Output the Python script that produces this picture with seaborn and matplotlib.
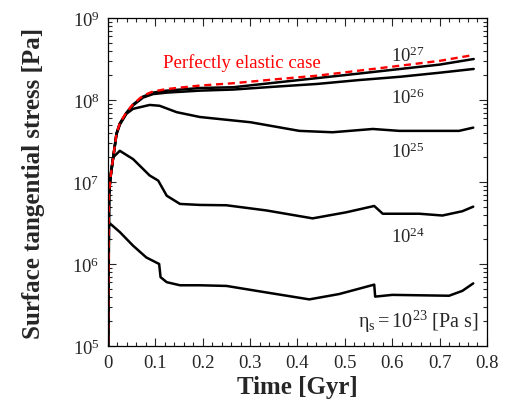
import matplotlib
matplotlib.use("Agg")
import matplotlib.pyplot as plt
from matplotlib.ticker import LogLocator, MultipleLocator, FixedLocator
import seaborn as sns

# Data (time in Gyr, stress in Pa)
t_elastic = [0, 0.002, 0.005, 0.011, 0.018, 0.025, 0.039, 0.053, 0.074, 0.095, 0.124,
             0.194, 0.264, 0.35, 0.442, 0.53, 0.617, 0.70, 0.772]
s_elastic = [8e4, 7e6, 1.1e7, 2.0e7, 3.9e7, 5.2e7, 7.1e7, 8.9e7, 1.13e8, 1.27e8, 1.36e8,
             1.5e8, 1.6e8, 1.78e8, 1.98e8, 2.28e8, 2.62e8, 3.0e8, 3.54e8]

t_27 = [0, 0.002, 0.005, 0.011, 0.018, 0.025, 0.039, 0.053, 0.074, 0.095, 0.124,
        0.194, 0.264, 0.35, 0.442, 0.53, 0.617, 0.70, 0.772]
s_27 = [8e4, 7e6, 1.1e7, 2.0e7, 3.9e7, 5.2e7, 7.0e7, 8.8e7, 1.1e8, 1.23e8, 1.3e8,
        1.4e8, 1.43e8, 1.62e8, 1.85e8, 2.1e8, 2.39e8, 2.7e8, 3.16e8]

t_26 = [0, 0.002, 0.005, 0.011, 0.018, 0.025, 0.039, 0.053, 0.074, 0.095, 0.124,
        0.194, 0.264, 0.35, 0.442, 0.53, 0.617, 0.70, 0.772]
s_26 = [8e4, 7e6, 1.1e7, 2.0e7, 3.9e7, 5.1e7, 6.9e7, 8.6e7, 1.07e8, 1.18e8, 1.23e8,
        1.3e8, 1.34e8, 1.45e8, 1.57e8, 1.75e8, 1.92e8, 2.15e8, 2.39e8]

t_25 = [0, 0.002, 0.005, 0.011, 0.018, 0.025, 0.039, 0.053, 0.088, 0.109, 0.145,
        0.194, 0.301, 0.404, 0.474, 0.559, 0.615, 0.741, 0.771]
s_25 = [8e4, 7e6, 1.1e7, 2.0e7, 3.8e7, 5.0e7, 6.8e7, 7.8e7, 8.7e7, 8.5e7, 7.1e7,
        6.2e7, 5.35e7, 4.2e7, 4.04e7, 4.43e7, 4.2e7, 4.2e7, 4.6e7]

t_24 = [0, 0.003, 0.006, 0.011, 0.025, 0.053, 0.088, 0.106, 0.124, 0.152, 0.194,
        0.25, 0.334, 0.432, 0.503, 0.562, 0.58, 0.657, 0.706, 0.748, 0.771]
s_24 = [8e4, 8e6, 1.3e7, 2.0e7, 2.4e7, 1.9e7, 1.2e7, 1.04e7, 6.8e6, 5.4e6, 5.25e6,
        5.2e6, 4.5e6, 3.6e6, 4.27e6, 5.1e6, 4.1e6, 4.1e6, 3.9e6, 4.4e6, 5.0e6]

t_23 = [0, 0.002, 0.025, 0.053, 0.081, 0.108, 0.111, 0.124, 0.152, 0.194, 0.25,
        0.334, 0.425, 0.488, 0.562, 0.564, 0.60, 0.66, 0.72, 0.748, 0.771]
s_23 = [8e4, 3.2e6, 2.45e6, 1.67e6, 1.2e6, 1.0e6, 6.9e5, 6.0e5, 5.5e5, 5.5e5, 5.4e5,
        4.5e5, 3.7e5, 4.3e5, 5.6e5, 4.0e5, 4.2e5, 4.15e5, 4.1e5, 4.7e5, 5.8e5]

x_ticks = [0, 0.1, 0.2, 0.3, 0.4, 0.5, 0.6, 0.7, 0.8]
x_labels = ["0", "0.1", "0.2", "0.3", "0.4", "0.5", "0.6", "0.7", "0.8"]

sns.set_style("ticks")
plt.rcParams['font.family'] = ['Liberation Serif', 'DejaVu Serif']
plt.rcParams['mathtext.fontset'] = 'custom'
plt.rcParams['mathtext.rm'] = 'Liberation Serif'
plt.rcParams['mathtext.it'] = 'Liberation Serif:italic'
plt.rcParams['mathtext.bf'] = 'Liberation Serif:bold'

fig = plt.figure(figsize=(5.06, 4.10), dpi=100)
ax = fig.add_axes([0.2134, 0.1537, 0.749, 0.800])

# black curves for each viscosity
for t, s in [(t_23, s_23), (t_24, s_24), (t_25, s_25), (t_26, s_26), (t_27, s_27)]:
    sns.lineplot(x=t, y=s, ax=ax, color='black', linewidth=1.8, sort=False, estimator=None)

# elastic case on top
sns.lineplot(x=t_elastic, y=s_elastic, ax=ax, color='red', linewidth=1.7,
             linestyle=(0, (3, 2)), sort=False, estimator=None)

ax.set_yscale('log')
ax.set_xlim(0, 0.8)
ax.set_ylim(1e5, 1e9)

ax.xaxis.set_major_locator(FixedLocator(x_ticks))
ax.set_xticklabels(x_labels)
ax.xaxis.set_minor_locator(MultipleLocator(0.02))
ax.yaxis.set_major_locator(LogLocator(base=10, numticks=10))
ax.yaxis.set_minor_locator(LogLocator(base=10, subs=range(2, 10), numticks=20))

ax.tick_params(which='both', direction='in', top=True, right=True, labelsize=13.5, pad=6)
ax.tick_params(which='major', length=6, width=0.8)
ax.tick_params(which='minor', length=3, width=0.8)
for sp in ax.spines.values():
    sp.set_linewidth(0.9)
    sp.set_color('black')

ax.set_xlabel('Time [Gyr]', fontsize=18, fontweight='bold', labelpad=3)
ax.set_ylabel('Surface tangential stress [Pa]', fontsize=18, fontweight='bold', labelpad=20)

# annotations
ax.text(0.1158, 2.52e8, 'Perfectly elastic case', color='red', fontsize=13.5, va='baseline')
ax.text(0.632, 3.5e8, r'$10^{27}$', fontsize=13.5, ha='center', va='center')
ax.text(0.632, 1.07e8, r'$10^{26}$', fontsize=13.5, ha='center', va='center')
ax.text(0.632, 2.4e7, r'$10^{25}$', fontsize=13.5, ha='center', va='center')
ax.text(0.634, 2.2e6, r'$10^{24}$', fontsize=13.5, ha='center', va='center')
ax.text(0.783, 2.0e5, r'η$_\mathrm{s}$$=10^{23}$ [Pa s]', fontsize=14.5, ha='right', va='center')

fig.savefig('out.png', dpi=100)
